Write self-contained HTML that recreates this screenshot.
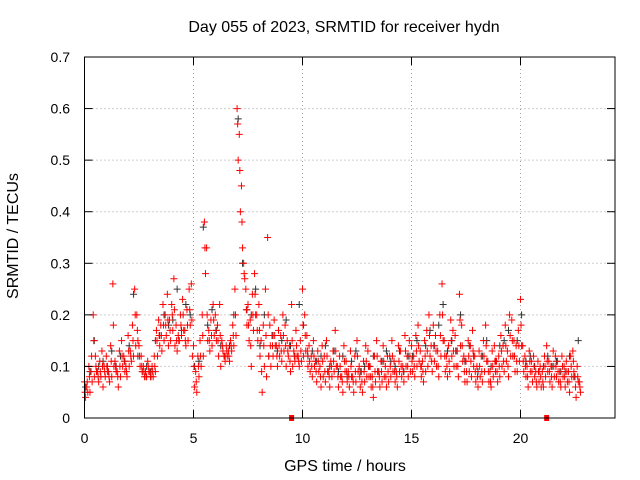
<!DOCTYPE html>
<html><head><meta charset="utf-8">
<style>
html,body{margin:0;padding:0;background:#fff;}
svg{display:block;font-family:"Liberation Sans",sans-serif;}
</style></head>
<body>
<svg id="chart" width="640" height="480" viewBox="0 0 640 480">
<rect x="0" y="0" width="640" height="480" fill="#fff"/>
<text x="344" y="32" font-size="16" text-anchor="middle">Day 055 of 2023, SRMTID for receiver hydn</text>
<text x="18" y="236" font-size="16" text-anchor="middle" transform="rotate(-90 18 236)">SRMTID / TECUs</text>
<text x="345" y="471" font-size="16" text-anchor="middle">GPS time / hours</text>
<g id="grid"></g>
<g id="black"></g>
<g id="red"></g>
<g id="axes"></g>
</svg>
<script>
const xTicks=[0,5,10,15,20];
const yTicks=[0,0.1,0.2,0.3,0.4,0.5,0.6,0.7];
const yTickLabels=["0","0.1","0.2","0.3","0.4","0.5","0.6","0.7"];
const redStep=0.1;
const redA=[.07,.06,.10,.09,.20,.12,.09,.11,.13,.10,
.12,.09,.14,.26,.11,.09,.13,.15,.12,.10,
.16,.13,.18,.25,.20,.14,.12,.10,.09,.11,
.09,.10,.12,.17,.19,.18,.22,.20,.24,.19,
.22,.27,.18,.16,.20,.23,.17,.21,.25,.26,
.14,.09,.12,.15,.20,.38,.33,.17,.19,.22,
.20,.18,.22,.15,.12,.14,.13,.15,.18,.25,
.60,.55,.45,.30,.25,.22,.19,.24,.28,.20,
.22,.15,.18,.25,.35,.18,.16,.19,.14,.17,
.16,.20,.18,.15,.14,.22,.13,.17,.12,.15,
.25,.20,.16,.14,.12,.15,.11,.13,.10,.14,
.12,.15,.09,.11,.13,.17,.10,.12,.08,.14,
.11,.09,.13,.08,.12,.15,.10,.09,.11,.14,
.13,.10,.08,.12,.15,.09,.11,.14,.10,.12,
.12,.15,.11,.09,.14,.13,.10,.16,.12,.15,
.14,.12,.16,.18,.13,.11,.15,.17,.20,.14,
.18,.16,.13,.20,.26,.15,.12,.14,.19,.17,
.16,.13,.24,.18,.12,.11,.15,.14,.17,.12,
.10,.13,.12,.15,.18,.11,.09,.13,.14,.11,
.12,.16,.14,.18,.13,.20,.19,.15,.14,.17,
.23,.14,.12,.10,.13,.11,.12,.09,.11,.10,
.09,.12,.14,.11,.10,.13,.12,.11,.09,.12,
.10,.11,.09,.12,.13,.08,.10,.07];
const redB=[.04,.05,.05,.07,.08,.09,.07,.08,.06,.08,
.09,.07,.08,.10,.09,.06,.08,.10,.09,.08,
.10,.11,.12,.14,.15,.10,.09,.08,.08,.09,
.08,.08,.09,.12,.14,.13,.15,.16,.14,.15,
.17,.14,.13,.15,.16,.17,.14,.15,.18,.12,
.06,.05,.08,.10,.12,.28,.15,.13,.14,.16,
.15,.12,.10,.13,.11,.12,.11,.13,.14,.16,
.50,.40,.33,.27,.18,.15,.10,.17,.20,.15,
.12,.05,.10,.08,.12,.10,.12,.14,.10,.12,
.11,.13,.10,.12,.09,.10,.11,.12,.10,.11,
.12,.13,.10,.09,.08,.10,.07,.09,.06,.08,
.07,.09,.06,.08,.09,.10,.06,.08,.05,.09,
.07,.06,.08,.05,.07,.09,.06,.05,.07,.08,
.08,.06,.04,.07,.09,.06,.07,.08,.06,.07,
.08,.09,.07,.06,.09,.08,.07,.10,.08,.09,
.09,.08,.10,.11,.08,.07,.09,.10,.12,.09,
.11,.10,.08,.12,.15,.09,.08,.09,.12,.10,
.10,.08,.14,.11,.07,.07,.09,.08,.10,.07,
.06,.08,.07,.09,.11,.07,.06,.08,.09,.07,
.08,.10,.09,.11,.08,.12,.12,.09,.09,.11,
.14,.09,.08,.06,.09,.07,.08,.06,.07,.06,
.06,.08,.09,.07,.06,.08,.08,.07,.06,.08,
.06,.07,.05,.08,.09,.04,.07,.05];
const redC=[.05,.07,.08,.12,.15,.10,.08,.09,.10,.09,
.10,.08,.11,.18,.10,.08,.10,.12,.11,.09,
.13,.12,.15,.20,.17,.12,.10,.09,.08,.10,
.08,.09,.10,.15,.16,.16,.18,.18,.19,.17,
.20,.21,.15,.15,.18,.20,.15,.18,.21,.19,
.10,.07,.10,.12,.16,.33,.20,.15,.16,.19,
.17,.15,.16,.14,.12,.13,.12,.14,.16,.20,
.57,.48,.38,.28,.21,.18,.14,.20,.24,.17,
.17,.09,.14,.16,.20,.14,.14,.16,.12,.14,
.13,.16,.14,.13,.11,.15,.12,.14,.11,.13,
.18,.16,.13,.11,.10,.12,.09,.11,.08,.11,
.09,.12,.08,.10,.11,.13,.08,.10,.07,.11,
.09,.08,.10,.07,.09,.12,.08,.07,.09,.11,
.10,.08,.06,.09,.12,.08,.09,.11,.08,.09,
.10,.12,.09,.08,.11,.10,.09,.13,.10,.12,
.11,.10,.13,.14,.10,.09,.12,.13,.16,.11,
.14,.13,.10,.16,.20,.12,.10,.11,.15,.13,
.13,.10,.19,.14,.09,.09,.12,.11,.13,.09,
.08,.10,.09,.12,.14,.09,.07,.10,.11,.09,
.10,.13,.11,.14,.10,.16,.15,.12,.11,.14,
.18,.11,.10,.08,.11,.09,.10,.07,.09,.08,
.07,.10,.11,.09,.08,.10,.10,.09,.07,.10,
.08,.09,.07,.10,.11,.06,.08,.06];
const blackStep=0.2;
const blackV=[.06,.09,.15,.10,.11,.10,.13,.10,.12,.11,.14,.24,.12,.09,.10,.09,.15,.16,.20,.18,
.19,.25,.17,.22,.20,.10,.11,.37,.18,.21,.17,.14,.12,.14,.20,.58,.30,.21,.20,.25,
.14,.20,.12,.16,.13,.15,.19,.14,.12,.22,.18,.12,.13,.11,.12,.14,.10,.13,.09,.12,
.08,.11,.13,.09,.10,.10,.12,.09,.11,.13,.11,.10,.13,.09,.12,.12,.15,.10,.14,.17,
.14,.18,.22,.13,.15,.13,.20,.11,.14,.12,.09,.12,.15,.10,.11,.14,.15,.17,.12,.15,
.20,.11,.12,.10,.09,.10,.12,.10,.11,.09,.09,.12,.08,.15];
const zeroT=[9.5,21.2];

const L=84.5,R=615,T=57,B=418;
const X=t=>L+t*21.8;
const Y=v=>B-v*(B-T)/0.7;
const NS="http://www.w3.org/2000/svg";
function mk(tag,attrs,parent){const e=document.createElementNS(NS,tag);for(const k in attrs)e.setAttribute(k,attrs[k]);parent.appendChild(e);return e;}
const grid=document.getElementById('grid'),axes=document.getElementById('axes');
yTicks.forEach((v,i)=>{
  const y=Y(v);
  if(v>0&&v<0.7){const g=mk('line',{x1:L,x2:R,y1:y,y2:y,stroke:'#a0a0a0','stroke-dasharray':'1,3','stroke-width':1},grid);
  
  }
  mk('line',{x1:L,x2:L+8,y1:y,y2:y,stroke:'#000'},axes);
  mk('line',{x1:R,x2:R-8,y1:y,y2:y,stroke:'#000'},axes);
  const t=mk('text',{x:70,y:y+5,'font-size':14,'text-anchor':'end'},axes);
  t.textContent=yTickLabels[i];
  
  
});
xTicks.forEach(v=>{
  const x=X(v);
  if(v>0){const g=mk('line',{x1:x,x2:x,y1:T,y2:B,stroke:'#a0a0a0','stroke-dasharray':'1,3','stroke-width':1},grid);
  
  }
  mk('line',{x1:x,x2:x,y1:B,y2:B-8,stroke:'#000'},axes);
  mk('line',{x1:x,x2:x,y1:T,y2:T+8,stroke:'#000'},axes);
  const t=mk('text',{x:x,y:443,'font-size':14,'text-anchor':'middle'},axes);
  t.textContent=String(v);
  
  
});
const frame=mk('rect',{x:L,y:T,width:R-L,height:B-T,fill:'none',stroke:'#000'},axes);



function plus(g,x,y,c){return mk('path',{d:`M${x-3.5},${y}h7M${x},${y-3.5}v7`,stroke:c,'stroke-width':1,fill:'none'},g);}
const gb=document.getElementById('black'),gr=document.getElementById('red');
blackV.forEach((v,i)=>{const p=plus(gb,X(i*blackStep+0.05),Y(v),'#333');

});
redA.forEach((v,i)=>{const p=plus(gr,X(i*redStep),Y(v),'#f00');

});
redB.forEach((v,i)=>{const p=plus(gr,X(i*redStep+0.05),Y(v),'#f00');

});
redC.forEach((v,i)=>{const p=plus(gr,X(i*redStep+0.025),Y(v),'#f00');

});
zeroT.forEach(t=>{const r=mk('rect',{x:X(t)-2.5,y:B-3,width:5,height:6,fill:'#f00'},gr);

});
</script>
</body></html>
